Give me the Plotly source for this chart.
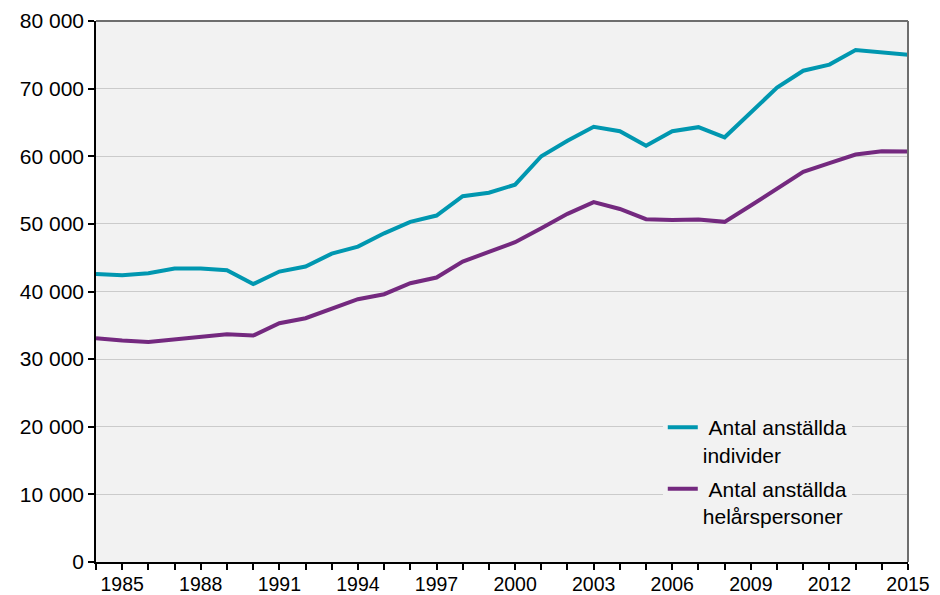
import plotly.graph_objects as go

years = list(range(1984, 2016))
individer = [42600, 42400, 42700, 43400, 43400, 43150, 41100, 42950, 43700, 45600,
             46640, 48600, 50300, 51230, 54100, 54600, 55800, 60000, 62300, 64350,
             63700, 61550, 63700, 64300, 62800, 66400, 70150, 72650, 73550, 75700,
             75400, 75000]
helarspersoner = [33090, 32740, 32540, 32940, 33240, 33680, 33480, 35310, 36050, 37520,
                  38860, 39600, 41230, 42060, 44420, 45860, 47290, 49360, 51480, 53210,
                  52200, 50700, 50590, 50640, 50300, 52710, 55280, 57690, 58980, 60250,
                  60750, 60700]
series_names = ["\u00a0Antal anställda<br>individer", "\u00a0Antal anställda<br>helårspersoner"]
series_colors = ["#0097B0", "#74297F"]

x_tickvals = years
x_ticktext = [str(y) if (y - 1985) % 3 == 0 else "" for y in years]
y_tickvals = [0, 10000, 20000, 30000, 40000, 50000, 60000, 70000, 80000]
y_ticktext = ["0", "10 000", "20 000", "30 000", "40 000", "50 000", "60 000", "70 000", "80 000"]

fig = go.Figure()
for i, (vals, name, col) in enumerate(zip([individer, helarspersoner], series_names, series_colors)):
    fig.add_trace(go.Scatter(x=years, y=vals, mode="lines", name=name,
                             legendgroup="g%d" % i,
                             line=dict(color=col, width=4)))

fam = "Liberation Sans, Arial, sans-serif"
yfont = dict(family=fam, size=21, color="#000000")
xfont = dict(family=fam, size=19.5, color="#000000")
lfont = dict(family=fam, size=21, color="#000000")
fig.update_layout(
    width=932, height=587,
    margin=dict(l=88, r=32, t=13, b=33, autoexpand=False),
    paper_bgcolor="white", plot_bgcolor="#F2F2F2",
    font=yfont,
    showlegend=True,
    legend=dict(x=0.698, y=0.2865, xanchor="left", yanchor="top",
                bgcolor="#F2F2F2", font=lfont, tracegroupgap=4,
                valign="top", itemwidth=30),
    xaxis=dict(range=[1984, 2015], tickmode="array", tickvals=x_tickvals,
               ticktext=x_ticktext, showgrid=False, zeroline=False,
               showline=True, linecolor="black", linewidth=1.5,
               ticks="outside", ticklen=6, tickcolor="black", tickwidth=1.5,
               ticklabelstandoff=-2,
               tickfont=xfont, automargin=False),
    yaxis=dict(range=[0, 80000], tickmode="array", tickvals=y_tickvals,
               ticktext=y_ticktext, showgrid=True, gridcolor="#CBCBCB",
               gridwidth=1, zeroline=False,
               showline=True, linecolor="black", linewidth=1.5,
               ticks="outside", ticklen=6, tickcolor="black", tickwidth=1.5,
               tickfont=yfont, automargin=False),
)
fig.add_shape(type="line", xref="paper", yref="paper", x0=0, x1=1, y0=1, y1=1,
              line=dict(color="#6E6E6E", width=2))
fig.add_shape(type="line", xref="paper", yref="paper", x0=1, x1=1, y0=0, y1=1,
              line=dict(color="#6E6E6E", width=2))
fig.write_html("out.html")
